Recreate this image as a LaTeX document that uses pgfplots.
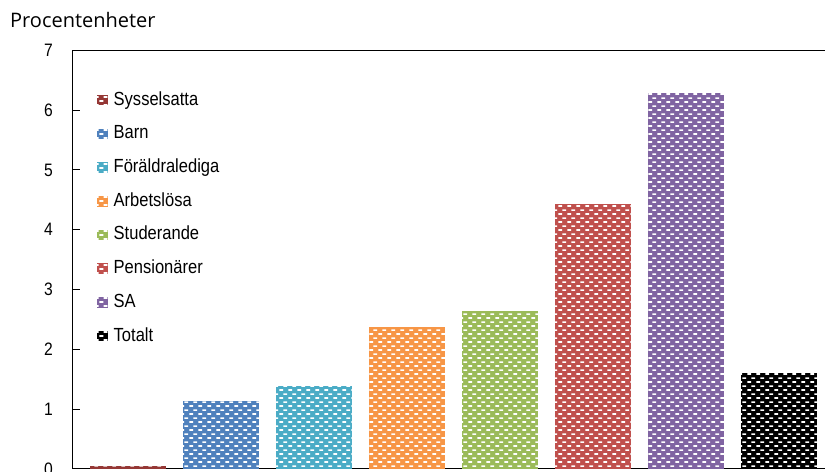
\documentclass[border=0pt]{standalone}
\usepackage{fontspec}
\setmainfont{Liberation Sans}
\newfontfamily\narrowfont{Liberation Sans}[FakeStretch=0.87]
\newfontfamily\titlefont{Open Sans}
\usepackage{pgfplots}
\pgfplotsset{compat=1.18}
\usetikzlibrary{patterns.meta,calc}

\tikzdeclarepattern{
  name=wbricks,
  type=uncolored,
  bottom left={(0bp,0bp)},
  top right={(9bp,8.4bp)},
  tile size={(9bp,8.4bp)},
  code={
    \draw[line width=1.7bp] (0.3bp,2.1bp) -- (4.5bp,2.1bp);
    \draw[line width=1.7bp] (4.8bp,6.3bp) -- (9bp,6.3bp);
  }
}

\definecolor{cSys}{HTML}{953735}
\definecolor{cBarn}{HTML}{4F81BD}
\definecolor{cFor}{HTML}{4BACC6}
\definecolor{cArb}{HTML}{F79646}
\definecolor{cStu}{HTML}{9BBB59}
\definecolor{cPen}{HTML}{C0504D}
\definecolor{cSA}{HTML}{8064A2}
\definecolor{cTot}{HTML}{000000}

\begin{document}
\begin{tikzpicture}
\begin{axis}[
  name=ax,
  scale only axis,
  width=753bp, height=418.6bp,
  xmin=0.398, xmax=8.495,
  ymin=0, ymax=7,
  ytick={0,1,2,3,4,5,6,7},
  xtick=\empty,
  axis x line*=box,
  axis y line*=left,
  axis line style={line width=1bp, black},
  tick align=inside,
  major tick length=8bp,
  ytick style={line width=1bp, black},
  yticklabel style={font=\narrowfont\fontsize{18bp}{21bp}\selectfont, anchor=east, inner sep=0pt, xshift=-19bp},
  /pgf/number format/assume math mode=true,
  ybar,
  bar width=76bp,
  legend style={at={(0.0332,0.902)}, anchor=north west, draw=none, fill=none, inner sep=0pt,
    font=\narrowfont\fontsize{19bp}{22bp}\selectfont, row sep=16.7bp,
    nodes={inner sep=0pt, text height=13.5bp, text depth=3.5bp},
    /tikz/every odd column/.append style={column sep=6bp}},
  legend cell align=left,
  legend image code/.code={\path[#1, draw=none] (0bp,-5.3bp) rectangle (10.5bp,5.3bp);},
]
\addplot[bar shift=0pt, fill=cSys, draw=none, postaction={pattern=wbricks, pattern color=white}] coordinates {(1,0.045)};
\addlegendentry{Sysselsatta}
\addplot[bar shift=0pt, fill=cBarn, draw=none, postaction={pattern=wbricks, pattern color=white}] coordinates {(2,1.14)};
\addlegendentry{Barn}
\addplot[bar shift=0pt, fill=cFor, draw=none, postaction={pattern=wbricks, pattern color=white}] coordinates {(3,1.39)};
\addlegendentry{Föräldralediga}
\addplot[bar shift=0pt, fill=cArb, draw=none, postaction={pattern=wbricks, pattern color=white}] coordinates {(4,2.38)};
\addlegendentry{Arbetslösa}
\addplot[bar shift=0pt, fill=cStu, draw=none, postaction={pattern=wbricks, pattern color=white}] coordinates {(5,2.65)};
\addlegendentry{Studerande}
\addplot[bar shift=0pt, fill=cPen, draw=none, postaction={pattern=wbricks, pattern color=white}] coordinates {(6,4.43)};
\addlegendentry{Pensionärer}
\addplot[bar shift=0pt, fill=cSA, draw=none, postaction={pattern=wbricks, pattern color=white}] coordinates {(7,6.28)};
\addlegendentry{SA}
\addplot[bar shift=0pt, fill=cTot, draw=none, postaction={pattern=wbricks, pattern color=white}] coordinates {(8,1.60)};
\addlegendentry{Totalt}
\end{axis}
\pgfresetboundingbox
\useasboundingbox ($(ax.south west)+(-72bp,-2.3bp)$) rectangle ($(ax.north east)+(0bp,50.4bp)$);
\node[anchor=base west, font=\titlefont\fontsize{20bp}{24bp}\selectfont, inner sep=0pt] at ($(ax.north west)+(-62bp,23bp)$) {Procentenheter};
\end{tikzpicture}
\end{document}
